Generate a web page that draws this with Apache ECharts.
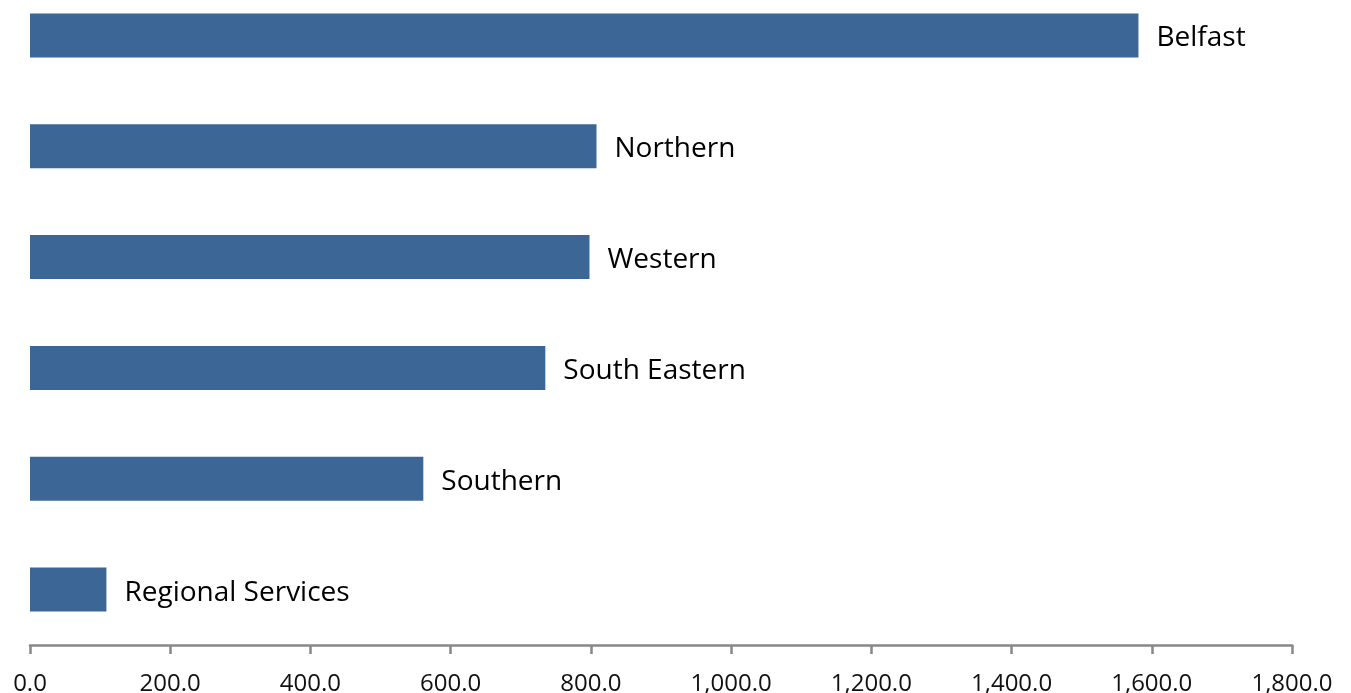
<!DOCTYPE html>
<html><head><meta charset="utf-8">
<script src="https://cdn.jsdelivr.net/npm/echarts@6/dist/echarts.min.js"></script>
<style>html,body{margin:0;padding:0;background:#fff;overflow:hidden}#c{width:1351px;height:713px;margin-top:-20px}</style>
</head><body><div id="c"></div>
<script>
const categories = ["Belfast","Northern","Western","South Eastern","Southern","Regional Services"];
const values = [1581, 808, 798, 735, 561, 109];
const tickMax = 1800;
const tickStep = 200;

const chart = echarts.init(document.getElementById('c'));
chart.setOption({
  animation: false,
  grid: {left: 30, right: 59, top: 0, bottom: 48, containLabel: false, outerBoundsMode: 'none'},
  xAxis: {
    type: 'value', min: 0, max: tickMax, interval: tickStep,
    splitLine: {show: false},
    axisLine: {show: true, lineStyle: {color: '#888888', width: 2.5}},
    axisTick: {show: true, length: 9, lineStyle: {color: '#888888', width: 2.5}},
    axisLabel: {color: '#111', fontSize: 24, fontFamily: 'Open Sans', margin: 27,
      formatter: v => v.toLocaleString('en-US', {minimumFractionDigits: 1, maximumFractionDigits: 1})}
  },
  yAxis: {
    type: 'category', data: categories, inverse: true,
    axisLine: {show: false}, axisTick: {show: false}, axisLabel: {show: false}
  },
  series: [{
    type: 'bar', data: values, barWidth: 44,
    itemStyle: {color: '#3B6696'},
    label: {show: true, position: 'right', distance: 18, offset: [0, 3], color: '#000', fontSize: 28,
      fontFamily: 'Open Sans', formatter: p => p.name}
  }]
});
</script></body></html>
